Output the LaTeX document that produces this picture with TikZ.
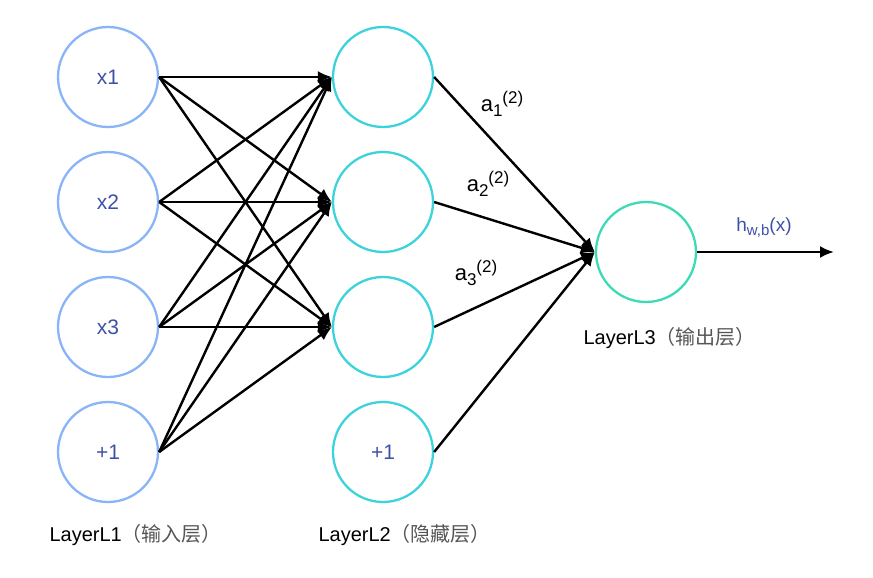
\documentclass[tikz,border=0pt]{standalone}
\usepackage{fontspec}
\setmainfont{Liberation Sans}
\newfontfamily\cjk{Noto Sans CJK SC}
\usetikzlibrary{arrows.meta}
\definecolor{inblue}{HTML}{8AB4F8}
\definecolor{hidcyan}{HTML}{3DD3DD}
\definecolor{outgreen}{HTML}{3DDBB5}
\definecolor{txtblue}{HTML}{3F51A5}
\definecolor{cjkgray}{HTML}{555555}
\newcommand{\lsub}[1]{\raisebox{-5pt}{\fontsize{17}{17}\selectfont #1}}
\newcommand{\lsup}[1]{\raisebox{8pt}{\fontsize{17}{17}\selectfont #1}}
\newcommand{\ssub}[1]{\raisebox{-4pt}{\fontsize{15}{15}\selectfont #1}}
\begin{document}
\begin{tikzpicture}[x=1pt,y=-1pt,
  neuron/.style={circle,minimum size=100pt,inner sep=0pt,line width=2.3pt,font=\fontsize{21}{24}\selectfont,text=txtblue},
  innode/.style={neuron,draw=inblue},
  hidnode/.style={neuron,draw=hidcyan},
  outnode/.style={neuron,draw=outgreen},
  conn/.style={line width=2.4pt,-{Latex[length=14pt,width=12pt]}},
  lbl/.style={font=\fontsize{22}{25}\selectfont},
  layerlbl/.style={font=\fontsize{20}{23}\selectfont,anchor=west}]
\useasboundingbox (0,0) rectangle (873,578);
\node[innode] (x1) at (108,77) {x1};
\node[innode] (x2) at (108,202) {x2};
\node[innode] (x3) at (108,327) {x3};
\node[innode] (b1) at (108,452) {+1};
\node[hidnode] (h1) at (383,77) {};
\node[hidnode] (h2) at (383,202) {};
\node[hidnode] (h3) at (383,327) {};
\node[hidnode] (b2) at (383,452) {+1};
\node[outnode] (o) at (646,252) {};
\coordinate (end) at (834,252);
\foreach \s in {x1,x2,x3,b1}{
  \foreach \t in {h1,h2,h3}{
    \draw[conn] (\s.east) -- (\t.west);
  }
}
\foreach \s in {h1,h2,h3,b2}{
  \draw[conn] (\s.east) -- (o.west);
}
\draw[conn] (o.east) -- (end);
\node[lbl] (a1) at (502,104) {a\lsub{1}\lsup{(2)}};
\node[lbl] (a2) at (488,184) {a\lsub{2}\lsup{(2)}};
\node[lbl] (a3) at (476,273) {a\lsub{3}\lsup{(2)}};
\node[font=\fontsize{19}{22}\selectfont,text=txtblue] (hx) at (764,228) {h\ssub{w,b}(x)};
\node[layerlbl] (L1) at (46,535) {LayerL1{\cjk\color{cjkgray}（输入层）}};
\node[layerlbl] (L2) at (315,535) {LayerL2{\cjk\color{cjkgray}（隐藏层）}};
\node[layerlbl] (L3) at (580,338) {LayerL3{\cjk\color{cjkgray}（输出层）}};
\end{tikzpicture}
\end{document}
